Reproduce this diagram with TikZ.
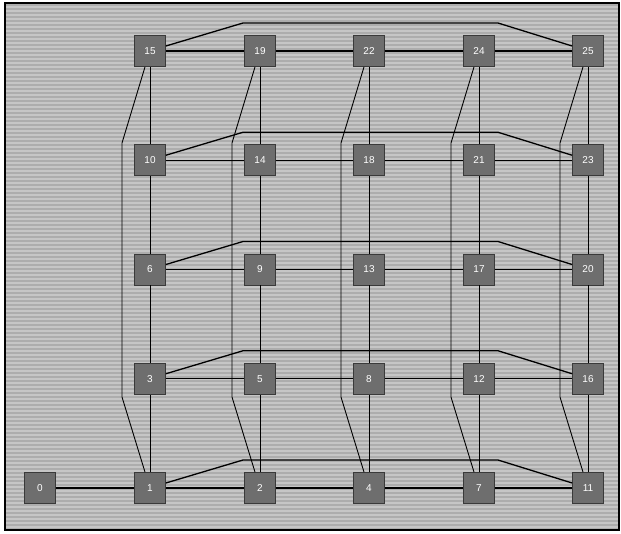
\documentclass[tikz,border=0pt]{standalone}
\usepackage{fontspec}
\setsansfont{Liberation Sans}
\usetikzlibrary{calc}
\definecolor{bgc}{HTML}{C6C6C6}
\definecolor{bgs}{HTML}{ADADAD}
\definecolor{nodec}{HTML}{6E6E6E}
\definecolor{nodeb}{HTML}{3A3A3A}
\tikzset{
  vnode/.style={draw=nodeb, line width=0.8pt, fill=nodec, minimum size=31pt, inner sep=0pt,
    text=white, font=\sffamily\fontsize{10}{10}\selectfont},
  edge/.style={draw=black, line width=0.9pt},
  hedge/.style={draw=black, line width=1.3pt}
}
\begin{document}
\begin{tikzpicture}[x=1pt,y=-1pt]
\useasboundingbox (0,0) rectangle (621,533);
% background with horizontal stripes
\fill[bgc] (5,3) rectangle (619,530);
\foreach \yy in {5,9,...,529} {
  \draw[bgs, line width=1.4pt] (5,\yy) -- (619,\yy);
}
\draw[black, line width=1.5pt] (5,3) rectangle (619,530);
% nodes
\node[vnode] (n0)  at (40,488) {0};
\node[vnode] (n1)  at (150,488) {1};
\node[vnode] (n2)  at (260,488) {2};
\node[vnode] (n4)  at (369,488) {4};
\node[vnode] (n7)  at (479,488) {7};
\node[vnode] (n11) at (588,488) {11};
\node[vnode] (n3)  at (150,378.75) {3};
\node[vnode] (n5)  at (260,378.75) {5};
\node[vnode] (n8)  at (369,378.75) {8};
\node[vnode] (n12) at (479,378.75) {12};
\node[vnode] (n16) at (588,378.75) {16};
\node[vnode] (n6)  at (150,269.5) {6};
\node[vnode] (n9)  at (260,269.5) {9};
\node[vnode] (n13) at (369,269.5) {13};
\node[vnode] (n17) at (479,269.5) {17};
\node[vnode] (n20) at (588,269.5) {20};
\node[vnode] (n10) at (150,160.25) {10};
\node[vnode] (n14) at (260,160.25) {14};
\node[vnode] (n18) at (369,160.25) {18};
\node[vnode] (n21) at (479,160.25) {21};
\node[vnode] (n23) at (588,160.25) {23};
\node[vnode] (n15) at (150,51) {15};
\node[vnode] (n19) at (260,51) {19};
\node[vnode] (n22) at (369,51) {22};
\node[vnode] (n24) at (479,51) {24};
\node[vnode] (n25) at (588,51) {25};
% horizontal edges
\foreach \a/\b in {n0/n1,n1/n2,n2/n4,n4/n7,n7/n11,
                   n3/n5,n5/n8,n8/n12,n12/n16,
                   n6/n9,n9/n13,n13/n17,n17/n20,
                   n10/n14,n14/n18,n18/n21,n21/n23,
                   n15/n19,n19/n22,n22/n24,n24/n25} {
  \draw[hedge] (\a) -- (\b);
}
% vertical edges
\foreach \a/\b in {n1/n3,n3/n6,n6/n10,n10/n15,
                   n2/n5,n5/n9,n9/n14,n14/n19,
                   n4/n8,n8/n13,n13/n18,n18/n22,
                   n7/n12,n12/n17,n17/n21,n21/n24,
                   n11/n16,n16/n20,n20/n23,n23/n25} {
  \draw[edge] (\a) -- (\b);
}
% bump edges over each row
\foreach \a/\b in {n1/n11,n3/n16,n6/n20,n10/n23,n15/n25} {
  \draw[hedge] ($(\a.east)+(0,-5)$) -- ($(\a)+(93,-28)$) -- ($(\b)+(-90,-28)$) -- ($(\b.west)+(0,-5)$);
}
% bent edges down each column
\foreach \a/\b in {n15/n1,n19/n2,n22/n4,n24/n7,n25/n11} {
  \draw[edge] ($(\a.south)+(-5,0)$) -- ($(\a)+(-28,92)$) -- ($(\b)+(-28,-91)$) -- ($(\b.north)+(-5,0)$);
}
\end{tikzpicture}
\end{document}
